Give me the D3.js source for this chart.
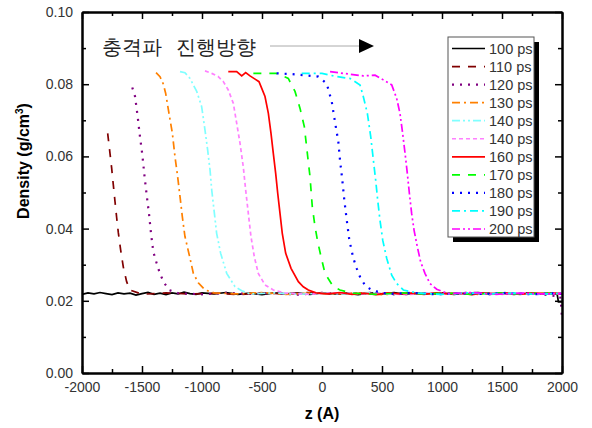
<!doctype html>
<html>
<head>
<meta charset="utf-8">
<style type="text/css">
body { margin: 0; background: #fff; }
text { font-family: Arial, "Liberation Sans", sans-serif; }
.tick text { font-size: 14px; fill: #333; }
.axis path, .axis line { stroke: #000; }
.title { font-size: 16px; font-weight: bold; fill: #000; }
.legend text { font-size: 14.5px; fill: #333; }
</style>
</head>
<body>
<svg width="592" height="428"></svg>
<script src="https://cdn.jsdelivr.net/npm/d3@7"></script>
<script>
// density profiles: [z (A), density (g/cm3)]
var ps100 = [[-2000,0.0218],[-1950,0.0222],[-1900,0.0219],[-1850,0.0223],[-1800,0.0220],[-1750,0.0217],[-1700,0.0222],[-1650,0.0219],[-1600,0.0221],[-1550,0.0216],[-1500,0.0220],[-1450,0.0223],[-1400,0.0218],[-1350,0.0221],[-1300,0.0217],[-1250,0.0222],[-1200,0.0219],[-1150,0.0224],[-1100,0.0220],[-1050,0.0218],[-1000,0.0222],[-900,0.0219],[-800,0.0223],[-700,0.0218],[-600,0.0221],[-500,0.0217],[-400,0.0222],[-300,0.0219],[-200,0.0221],[-100,0.0218],[0,0.0222],[100,0.0219],[200,0.0221],[300,0.0217],[400,0.0222],[500,0.0219],[600,0.0223],[700,0.0218],[800,0.0221],[900,0.0219],[1000,0.0222],[1100,0.0218],[1200,0.0221],[1300,0.0223],[1400,0.0219],[1500,0.0221],[1600,0.0218],[1700,0.0222],[1800,0.0219],[1900,0.0221],[1960,0.0218],[1970,0.0197],[2000,0.0197]];
var ps110 = [[-1786,0.0664],[-1767,0.0609],[-1753,0.0568],[-1739,0.0521],[-1725,0.0475],[-1711,0.0430],[-1697,0.0388],[-1678,0.0341],[-1656,0.0294],[-1628,0.0253],[-1600,0.0230],[-1500,0.0218],[-1300,0.0222],[-1100,0.0219],[-900,0.0221],[-700,0.0217],[-500,0.0222],[-300,0.0219],[-100,0.0223],[100,0.0218],[300,0.0221],[500,0.0219],[700,0.0222],[900,0.0218],[1100,0.0221],[1300,0.0219],[1500,0.0222],[1700,0.0218],[1900,0.0221],[2000,0.0219]];
var ps120 = [[-1581,0.0791],[-1558,0.0766],[-1536,0.0710],[-1517,0.0655],[-1497,0.0604],[-1480,0.0548],[-1461,0.0493],[-1442,0.0442],[-1425,0.0387],[-1406,0.0336],[-1378,0.0304],[-1356,0.0281],[-1322,0.0253],[-1275,0.0230],[-1200,0.0221],[-1000,0.0218],[-800,0.0222],[-600,0.0219],[-400,0.0221],[-200,0.0217],[0,0.0222],[200,0.0219],[400,0.0222],[600,0.0218],[800,0.0221],[1000,0.0219],[1200,0.0222],[1400,0.0218],[1600,0.0221],[1800,0.0219],[1985,0.0212],[1995,0.0180],[2000,0.0145]];
var ps130 = [[-1383,0.0832],[-1350,0.0821],[-1322,0.0800],[-1303,0.0775],[-1275,0.0719],[-1247,0.0664],[-1225,0.0599],[-1203,0.0544],[-1183,0.0488],[-1164,0.0433],[-1142,0.0378],[-1100,0.0318],[-1072,0.0276],[-1031,0.0250],[-975,0.0230],[-900,0.0222],[-700,0.0219],[-500,0.0223],[-300,0.0218],[-100,0.0221],[100,0.0219],[300,0.0222],[500,0.0217],[700,0.0221],[900,0.0219],[1100,0.0222],[1300,0.0218],[1500,0.0221],[1700,0.0219],[1900,0.0222],[2000,0.0219]];
var ps140a = [[-1183,0.0835],[-1142,0.0832],[-1100,0.0816],[-1044,0.0780],[-1003,0.0738],[-975,0.0673],[-953,0.0618],[-933,0.0562],[-919,0.0507],[-900,0.0452],[-878,0.0387],[-845,0.0332],[-794,0.0276],[-725,0.0239],[-669,0.0228],[-600,0.0219],[-400,0.0222],[-200,0.0218],[0,0.0221],[200,0.0219],[400,0.0223],[600,0.0218],[800,0.0221],[1000,0.0219],[1200,0.0222],[1400,0.0218],[1600,0.0221],[1800,0.0219],[2000,0.0221]];
var ps140b = [[-975,0.0837],[-919,0.0830],[-864,0.0821],[-822,0.0807],[-781,0.0784],[-739,0.0747],[-711,0.0692],[-683,0.0636],[-656,0.0571],[-636,0.0507],[-614,0.0442],[-592,0.0378],[-564,0.0322],[-531,0.0276],[-475,0.0244],[-406,0.0230],[-300,0.0221],[-100,0.0218],[100,0.0222],[300,0.0219],[500,0.0221],[700,0.0217],[900,0.0222],[1100,0.0219],[1300,0.0221],[1500,0.0218],[1700,0.0222],[1900,0.0219],[2000,0.0221]];
var ps160 = [[-781,0.0835],[-711,0.0835],[-669,0.0823],[-636,0.0832],[-600,0.0823],[-558,0.0814],[-525,0.0807],[-503,0.0789],[-475,0.0766],[-447,0.0719],[-425,0.0664],[-406,0.0609],[-386,0.0553],[-369,0.0498],[-350,0.0442],[-331,0.0387],[-303,0.0332],[-258,0.0290],[-197,0.0253],[-156,0.0239],[-114,0.0230],[-50,0.0222],[50,0.0219],[150,0.0223],[250,0.0218],[350,0.0221],[450,0.0217],[550,0.0222],[650,0.0219],[750,0.0221],[850,0.0218],[950,0.0222],[1050,0.0219],[1150,0.0221],[1250,0.0217],[1350,0.0222],[1450,0.0219],[1550,0.0221],[1650,0.0218],[1750,0.0222],[1850,0.0219],[1950,0.0221],[2000,0.0219]];
var ps170 = [[-572,0.0830],[-461,0.0830],[-378,0.0830],[-281,0.0816],[-225,0.0780],[-183,0.0733],[-147,0.0682],[-119,0.0599],[-100,0.0544],[-81,0.0461],[-58,0.0405],[-36,0.0364],[-8,0.0322],[25,0.0276],[94,0.0239],[150,0.0230],[250,0.0221],[450,0.0218],[650,0.0222],[850,0.0219],[1050,0.0221],[1250,0.0218],[1450,0.0222],[1650,0.0219],[1850,0.0221],[2000,0.0219]];
var ps180 = [[-378,0.0830],[-253,0.0828],[-31,0.0821],[39,0.0802],[81,0.0752],[108,0.0696],[136,0.0641],[150,0.0590],[169,0.0535],[186,0.0479],[206,0.0424],[228,0.0368],[261,0.0318],[289,0.0290],[322,0.0262],[367,0.0239],[428,0.0228],[550,0.0219],[750,0.0222],[950,0.0218],[1150,0.0221],[1350,0.0219],[1550,0.0222],[1750,0.0218],[1950,0.0221],[2000,0.0219]];
var ps190 = [[-169,0.0830],[0,0.0830],[122,0.0821],[233,0.0816],[317,0.0798],[344,0.0766],[378,0.0719],[406,0.0655],[428,0.0590],[447,0.0535],[464,0.0479],[483,0.0424],[506,0.0368],[539,0.0318],[581,0.0271],[622,0.0248],[678,0.0230],[800,0.0221],[1000,0.0218],[1200,0.0222],[1400,0.0219],[1600,0.0221],[1800,0.0218],[2000,0.0221]];
var ps200 = [[67,0.0835],[178,0.0830],[344,0.0823],[442,0.0825],[511,0.0812],[581,0.0798],[622,0.0761],[650,0.0719],[672,0.0664],[692,0.0609],[711,0.0553],[728,0.0498],[747,0.0442],[767,0.0396],[794,0.0350],[822,0.0308],[858,0.0276],[900,0.0248],[956,0.0232],[1050,0.0220],[1250,0.0223],[1450,0.0218],[1650,0.0221],[1850,0.0219],[2000,0.0220]];

var labels = ["100 ps","110 ps","120 ps","130 ps","140 ps","140 ps","160 ps","170 ps","180 ps","190 ps","200 ps"];
var profiles = [ps100, ps110, ps120, ps130, ps140a, ps140b, ps160, ps170, ps180, ps190, ps200];
var colors = ["#000000","#800000","#800080","#ff8000","#80ffff","#ff80ff","#ff0000","#00ff00","#0000ff","#00ffff","#ff00ff"];
var dashes = ["none","8,8","2,6","8,4,2,4","8,3,2,3,2,3","4,3","none","8,8","2,6","8,4,2,4","8,3,2,3,2,3"];

var xMajor = [-2000,-1500,-1000,-500,0,500,1000,1500,2000];
var xMinor = [-1750,-1250,-750,-250,250,750,1250,1750];
var yMajor = [0,0.02,0.04,0.06,0.08,0.10];
var yMinor = [0.01,0.03,0.05,0.07,0.09];

var svg = d3.select("svg");
var margin = {top: 12, right: 30, bottom: 55, left: 82},
    width = 592 - margin.left - margin.right,
    height = 428 - margin.top - margin.bottom;

var x = d3.scaleLinear().domain([-2000, 2000]).range([0, width]);
var y = d3.scaleLinear().domain([0, 0.1]).range([height, 0]);

var g = svg.append("g").attr("transform", "translate(" + margin.left + "," + margin.top + ")");

var line = d3.line().x(function(d){ return x(d[0]); }).y(function(d){ return y(d[1]); });

g.selectAll("path.profile")
  .data(profiles)
  .enter().append("path")
  .attr("class", "profile")
  .attr("d", line)
  .attr("fill", "none")
  .attr("stroke", function(d,i){ return colors[i]; })
  .attr("stroke-width", function(d,i){ return dashes[i] == "2,6" ? 2.2 : 1.7; })
  .attr("stroke-dasharray", function(d,i){ return dashes[i]; });

// axes, ticks inward on all four sides
function axis(gen, t, major, size, fmt) {
  var a = g.append("g").attr("class", "axis").attr("transform", t)
    .call(gen.tickValues(major).tickSizeInner(-size).tickSizeOuter(0).tickPadding(9).tickFormat(fmt));
  a.select(".domain").attr("stroke-width", 2);
  a.selectAll(".tick line").attr("stroke-width", 1.5);
  return a;
}
var none = function(){ return ""; };
axis(d3.axisBottom(x), "translate(0," + height + ")", xMajor, 7, function(d){ return String(d); });
axis(d3.axisBottom(x), "translate(0," + height + ")", xMinor, 4, none);
axis(d3.axisTop(x), "translate(0,0)", xMajor, 7, none);
axis(d3.axisTop(x), "translate(0,0)", xMinor, 4, none);
axis(d3.axisLeft(y), "translate(0,0)", yMajor, 7, d3.format(".2f"));
axis(d3.axisLeft(y), "translate(0,0)", yMinor, 4, none);
axis(d3.axisRight(y), "translate(" + width + ",0)", yMajor, 7, none);
axis(d3.axisRight(y), "translate(" + width + ",0)", yMinor, 4, none);
g.selectAll(".axis text").attr("font-family", "Arial, 'Liberation Sans', sans-serif");

svg.append("text").attr("class", "title")
  .attr("x", margin.left + width / 2).attr("y", 419)
  .attr("text-anchor", "middle").text("z (A)");

var yt = svg.append("text").attr("class", "title")
  .attr("transform", "translate(29,161) rotate(-90)")
  .attr("text-anchor", "middle");
yt.append("tspan").text("Density (g/cm");
yt.append("tspan").attr("dy", -6).attr("font-size", 10).text("3");
yt.append("tspan").attr("dy", 6).text(")");

// annotation with arrow
svg.append("text")
  .attr("x", 102).attr("y", 47)
  .attr("dominant-baseline", "central")
  .attr("font-family", "'Noto Sans CJK KR', sans-serif")
  .attr("font-size", 19.5).attr("fill", "#222")
  .attr("word-spacing", 9)
  .text("충격파 진행방향");
svg.append("line")
  .attr("x1", 270).attr("x2", 360).attr("y1", 46).attr("y2", 46)
  .attr("stroke", "#aaa").attr("stroke-width", 1);
svg.append("path")
  .attr("d", "M359,39 L374,46 L359,53 Z").attr("fill", "#000");

// legend
var lg = svg.append("g").attr("class", "legend");
lg.append("rect").attr("x", 453).attr("y", 42).attr("width", 86).attr("height", 200).attr("fill", "#000");
lg.append("rect").attr("x", 448).attr("y", 37).attr("width", 86).attr("height", 200)
  .attr("fill", "#fff").attr("stroke", "#555").attr("stroke-width", 1);
var rows = lg.selectAll("g.row").data(labels).enter().append("g")
  .attr("class", "row")
  .attr("transform", function(d,i){ return "translate(0," + (48.5 + i * 18.05) + ")"; });
rows.append("line")
  .attr("x1", 452).attr("x2", 485).attr("y1", 0).attr("y2", 0)
  .attr("stroke", function(d,i){ return colors[i]; })
  .attr("stroke-width", function(d,i){ return dashes[i] == "2,6" ? 2.2 : 1.7; })
  .attr("stroke-dasharray", function(d,i){ return dashes[i]; });
rows.append("text")
  .attr("x", 489).attr("y", 0).attr("dy", "0.36em")
  .text(function(d){ return d; });
</script>
</body>
</html>
